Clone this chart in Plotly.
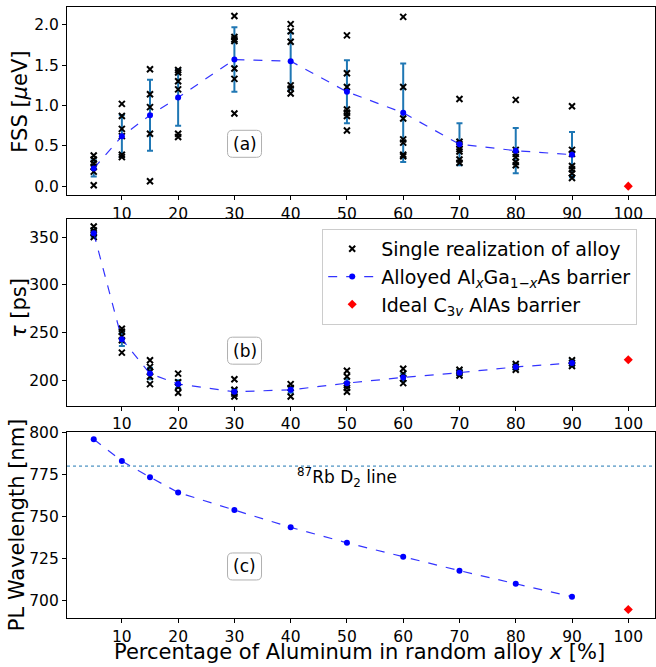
import plotly.graph_objects as go
from plotly.subplots import make_subplots

# ---------------- data ----------------
x_vals = [5, 10, 15, 20, 30, 40, 50, 60, 70, 80, 90]

# FSS single realizations (µeV)
fss_single = {
    5: [0.38, 0.33, 0.28, 0.24, 0.18, 0.01],
    10: [1.02, 0.87, 0.71, 0.62, 0.39, 0.36],
    15: [1.45, 1.14, 0.98, 0.65, 0.06],
    20: [1.44, 1.41, 1.30, 1.20, 0.65, 0.61],
    30: [2.11, 1.85, 1.82, 1.80, 1.46, 1.33, 0.90],
    40: [2.01, 1.92, 1.79, 1.25, 1.21, 1.15],
    50: [1.87, 1.40, 1.23, 0.95, 0.91, 0.87, 0.69],
    60: [2.10, 1.23, 0.84, 0.58, 0.54, 0.39, 0.37],
    70: [1.08, 0.55, 0.52, 0.46, 0.43, 0.33, 0.29],
    80: [1.07, 0.45, 0.40, 0.36, 0.30, 0.26],
    90: [0.99, 0.45, 0.40, 0.25, 0.21, 0.16, 0.10],
}
fss_mean = [0.22, 0.62, 0.88, 1.10, 1.57, 1.55, 1.17, 0.91, 0.52, 0.44, 0.39]
fss_err = [0.10, 0.26, 0.44, 0.35, 0.40, 0.35, 0.39, 0.61, 0.26, 0.28, 0.28]

# lifetime single realizations (ps)
tau_single = {
    5: [361, 357, 354, 350],
    10: [254, 251, 246, 242, 229],
    15: [221, 214, 209, 204, 196],
    20: [207, 198, 193, 187],
    30: [201, 190, 186, 183],
    40: [196, 192, 183],
    50: [210, 204, 195, 192, 188],
    60: [212, 207, 202, 197],
    70: [211, 208, 205],
    80: [217, 214, 211],
    90: [221, 218, 215],
}
tau_mean = [354, 243, 207, 196, 188, 190, 197, 203, 208, 214, 218]
tau_err = [4, 7, 6, 4, 3, 3, 4, 4, 3, 3, 3]

# PL wavelength (nm)
pl_mean = [796.0, 783.0, 773.4, 764.3, 753.8, 743.5, 734.3, 726.0, 717.7, 709.9, 702.2]

# ideal AlAs barrier
ideal_x = [100]
ideal_fss = [0.0]
ideal_tau = [221.5]
ideal_pl = [694.6]

rb_line = 780.0
x_ticks = [10, 20, 30, 40, 50, 60, 70, 80, 90, 100]

# ---------------- figure ----------------
FONT = "DejaVu Sans"
ERR_C = "#1f77b4"

fig = make_subplots(rows=3, cols=1)

panels = [
    (1, fss_single, fss_mean, fss_err, ideal_fss),
    (2, tau_single, tau_mean, tau_err, ideal_tau),
    (3, None, pl_mean, None, ideal_pl),
]

for row, single, mean, err, ideal in panels:
    first = row == 1
    if err is not None:
        fig.add_trace(go.Scatter(
            x=x_vals, y=mean, mode="markers",
            marker=dict(size=1, color="rgba(0,0,0,0)"),
            error_y=dict(type="data", array=err, color=ERR_C, thickness=2, width=3),
            showlegend=False, hoverinfo="skip"), row=row, col=1)
    if single is not None:
        sx, sy = [], []
        for xv in x_vals:
            for v in single[xv]:
                sx.append(xv)
                sy.append(v)
        fig.add_trace(go.Scatter(
            x=sx, y=sy, mode="markers",
            marker=dict(symbol="x-thin", size=6, line=dict(width=2, color="black"), color="black"),
            name="Single realization of alloy", showlegend=first, legendrank=1), row=row, col=1)
    fig.add_trace(go.Scatter(
        x=x_vals, y=mean, mode="lines+markers",
        line=dict(color="rgba(0,0,255,0.8)", width=1.2, dash="dash"),
        marker=dict(size=6, color="blue"),
        name="Alloyed Al<sub><i>x</i></sub>Ga<sub>1\u2212<i>x</i></sub>As barrier",
        showlegend=first, legendrank=2), row=row, col=1)
    fig.add_trace(go.Scatter(
        x=ideal_x, y=ideal, mode="markers",
        marker=dict(symbol="diamond", size=7, color="red"),
        name="Ideal C<sub>3<i>v</i></sub> AlAs barrier",
        showlegend=first, legendrank=3), row=row, col=1)

# Rb D2 line
fig.add_shape(type="line", xref="x3 domain", yref="y3", x0=0, x1=1, y0=rb_line, y1=rb_line,
              line=dict(color=ERR_C, width=1, dash="dot"))
fig.add_annotation(xref="x3", yref="y3", x=50, y=773, showarrow=False,
                   text="<sup>87</sup>Rb D<sub>2</sub> line", font=dict(size=17, color="black", family=FONT))

# panel labels with rounded boxes
def rounded(w, h, r):
    a, b = w / 2, h / 2
    return (f"M {-a + r},{-b} L {a - r},{-b} Q {a},{-b} {a},{-b + r} L {a},{b - r} Q {a},{b} {a - r},{b} "
            f"L {-a + r},{b} Q {-a},{b} {-a},{b - r} L {-a},{-b + r} Q {-a},{-b} {-a + r},{-b} Z")

labels = [("x", "y", 31.8, 0.525, "(a)"), ("x2", "y2", 31.8, 231, "(b)"), ("x3", "y3", 31.8, 720.2, "(c)")]
for xr, yr, lx, ly, t in labels:
    fig.add_shape(type="path", xref=xr, yref=yr, xsizemode="pixel", ysizemode="pixel",
                  xanchor=lx, yanchor=ly, path=rounded(34, 27, 5),
                  line=dict(color="#b0b0b0", width=1), fillcolor="white", layer="above")
    fig.add_annotation(xref=xr, yref=yr, x=lx, y=ly, text=t, showarrow=False,
                       font=dict(size=17, color="black", family=FONT))

axis_common = dict(showline=True, linecolor="black", linewidth=1.2, mirror=True,
                   ticks="outside", ticklen=4, tickwidth=1, tickcolor="black",
                   showgrid=False, zeroline=False,
                   tickfont=dict(size=15.5, color="black", family=FONT))

for i in (1, 2, 3):
    fig.update_xaxes(range=[0.25, 104.75], tickvals=x_ticks, row=i, col=1, **axis_common)
    fig.update_yaxes(row=i, col=1, **axis_common)

fig.update_layout(
    yaxis=dict(domain=[0.6923, 1.0], range=[-0.11, 2.222], tickvals=[0.0, 0.5, 1.0, 1.5, 2.0],
               ticktext=["0.0", "0.5", "1.0", "1.5", "2.0"]),
    yaxis2=dict(domain=[0.3475, 0.6530], range=[173.4, 368.9], tickvals=[200, 250, 300, 350]),
    yaxis3=dict(domain=[0.0, 0.3044], range=[689.5, 800.3], tickvals=[700, 725, 750, 775, 800]),
)

# axis titles as paper annotations (pixel-matched positions)
TITLE_FONT = dict(size=21, family=FONT, color="black")
axis_titles = [
    ("FSS [<i>\u03bc</i>eV]", -0.080, 0.845, -90),
    ("<i>\u03c4</i> [ps]", -0.082, 0.507, -90),
    ("PL Wavelength [nm]", -0.085, 0.152, -90),
    ("Percentage of Aluminum in random alloy <i>x</i> [%]", 0.4966, -0.055, 0),
]
for txt, px, py, ang in axis_titles:
    fig.add_annotation(xref="paper", yref="paper", x=px, y=py, text=txt, textangle=ang,
                       showarrow=False, xanchor="center", yanchor="middle", font=TITLE_FONT)

fig.update_layout(
    width=656, height=667,
    margin=dict(l=67, r=1, t=7, b=49, autoexpand=False),
    paper_bgcolor="white", plot_bgcolor="white",
    font=dict(family=FONT, color="black"),
    legend=dict(x=0.434, y=0.6367, xanchor="left", yanchor="top",
                bgcolor="rgba(255,255,255,0.8)", bordercolor="#cccccc", borderwidth=1,
                font=dict(size=19, family=FONT, color="black"), tracegroupgap=0,
                traceorder="normal", itemwidth=48),
    showlegend=True,
)

fig.write_html("out.html", config={"displayModeBar": False},
               post_script="document.body.style.margin='0';document.body.style.padding='0';")
